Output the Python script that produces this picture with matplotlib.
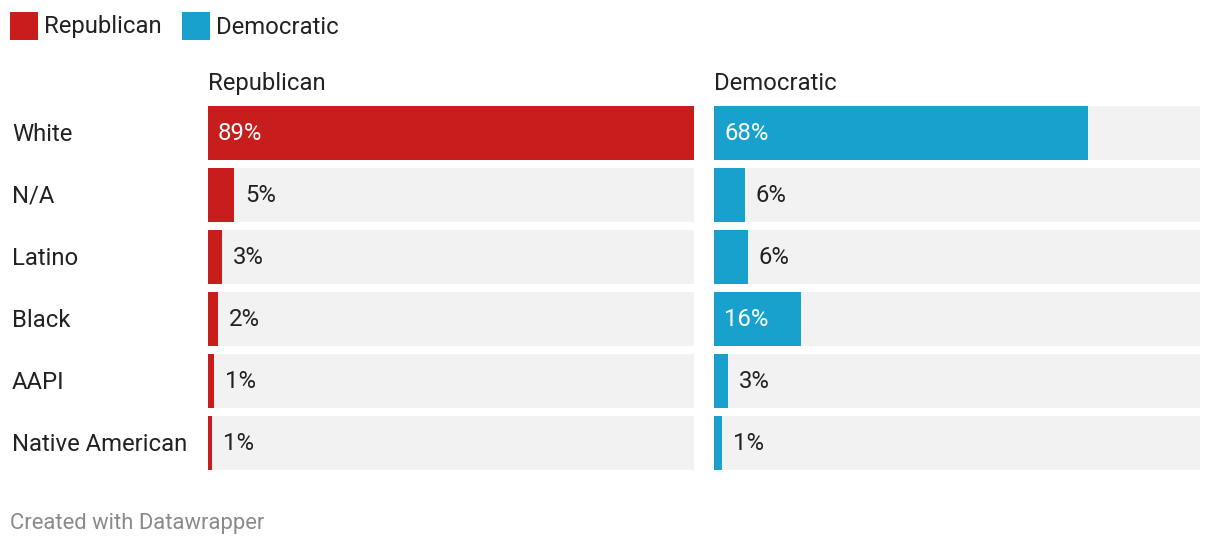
import matplotlib
matplotlib.use("Agg")
import matplotlib.pyplot as plt
from matplotlib.patches import Rectangle

categories = ["White", "N/A", "Latino", "Black", "AAPI", "Native American"]
republican = [89, 4.8, 2.6, 1.8, 1.1, 0.7]
democratic = [68.5, 5.6, 6.2, 16, 2.6, 1.4]
series_names = ["Republican", "Democratic"]
colors = ["#c71e1d", "#18a1cd"]

plt.rcParams['font.family'] = ['Roboto', 'DejaVu Sans']

W, H = 1220, 548
fig = plt.figure(figsize=(W / 100, H / 100), dpi=100)

def fx(px):
    return px / W

def fy(py):
    return 1 - py / H

TXT = "#222222"
FS = 17.2
xmax = max(max(republican), max(democratic))

# legend
lx = 10
for name, c in zip(series_names, colors):
    fig.patches.append(Rectangle((fx(lx), fy(40)), fx(28), 28 / H, transform=fig.transFigure,
                                 facecolor=c, edgecolor='none'))
    fig.text(fx(lx + 34), fy(27), name, fontsize=FS, color=TXT, va='center', ha='left')
    lx = 182

n = len(categories)
pitch = 62
barh = 54
top = 106
bottom = top + pitch * (n - 1) + barh

for data, c, name, left in zip([republican, democratic], colors, series_names, [208, 714]):
    ax = fig.add_axes([fx(left), fy(bottom), 486 / W, (bottom - top) / H])
    ax.set_xlim(0, xmax)
    h = barh / pitch
    ax.set_ylim(n - 1 + h / 2, -h / 2)
    ax.axis('off')
    ys = list(range(n))
    ax.barh(ys, [xmax] * n, height=h, color="#f2f2f2", edgecolor='none')
    ax.barh(ys, data, height=h, color=c, edgecolor='none')
    for y, v in zip(ys, data):
        lab = f"{round(v)}%"
        if v > 10:
            ax.annotate(lab, (0, y), xytext=(10, 0), textcoords='offset pixels',
                        color='white', fontsize=FS, va='center', ha='left')
        else:
            ax.annotate(lab, (v, y), xytext=(11, 0), textcoords='offset pixels',
                        color=TXT, fontsize=FS, va='center', ha='left')
    fig.text(fx(left), fy(83), name, fontsize=FS, color=TXT, va='center', ha='left')

for i, cat in enumerate(categories):
    fig.text(fx(12), fy(top + barh / 2 + i * pitch + 1.5), cat, fontsize=FS, color=TXT,
             va='center', ha='left')

fig.text(fx(10), fy(523), "Created with Datawrapper", fontsize=15.8, color="#8a8a8a",
         va='center', ha='left')

fig.savefig("out.png", dpi=100)
